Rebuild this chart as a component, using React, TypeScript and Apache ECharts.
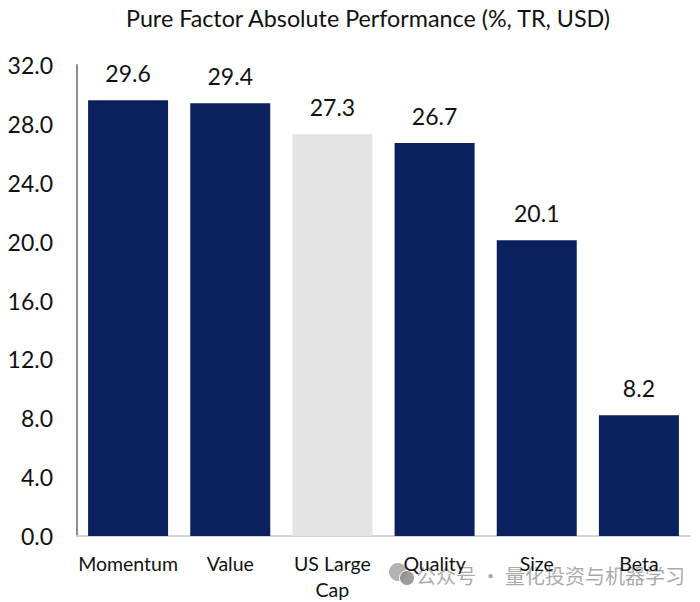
import React, { useEffect, useRef } from "react";
import * as echarts from "echarts";

const categories = ["Momentum", "Value", "US Large\nCap", "Quality", "Size", "Beta"];
const values = [29.6, 29.4, 27.3, 26.7, 20.1, 8.2];
const barColors = ["#0a205f", "#0a205f", "#e4e4e4", "#0a205f", "#0a205f", "#0a205f"];
const title = "Pure Factor Absolute Performance (%, TR, USD)";
const watermark = "公众号 · 量化投资与机器学习";
const font = "Lato";

export default function App() {
  const ref = useRef<HTMLDivElement>(null);
  useEffect(() => {
    const chart = echarts.init(ref.current!, null, { renderer: "svg" });
    chart.setOption({
      animation: false,
      backgroundColor: "#fff",
      title: {
        text: title, left: 363, top: 1, textAlign: "center",
        textStyle: { fontFamily: font, fontSize: 23.3, fontWeight: "normal", color: "#111" },
      },
      grid: { left: 77, right: 10, top: 65, bottom: 65 },
      xAxis: {
        type: "category", data: categories,
        axisLine: { lineStyle: { color: "#d4d4d4", width: 2 } },
        axisTick: { show: false },
        axisLabel: { fontFamily: font, fontSize: 19.5, color: "#111", margin: 14, lineHeight: 26, interval: 0 },
      },
      yAxis: {
        type: "value", min: 0, max: 32, interval: 4,
        axisLine: { show: true, lineStyle: { color: "#8c8c8c", width: 2 } },
        axisTick: { show: false },
        splitLine: { show: false },
        axisLabel: { fontFamily: font, fontSize: 23, color: "#111", margin: 24, formatter: (v: number) => v.toFixed(1) },
      },
      series: [{
        type: "bar", data: values.map((v, i) => ({ value: v, itemStyle: { color: barColors[i] } })),
        barWidth: 80,
        label: { show: true, position: "top", distance: 16, fontFamily: font, fontSize: 23, color: "#111", formatter: (p: any) => p.value.toFixed(1) },
      }],
      graphic: [
        { type: "circle", shape: { cx: 398, cy: 572, r: 9 }, style: { fill: "rgba(165,165,165,0.85)" } },
        { type: "circle", shape: { cx: 407, cy: 578, r: 7.5 }, style: { fill: "rgba(140,140,140,0.85)", stroke: "#fff", lineWidth: 1 } },
        { type: "text", left: 416, top: 565, style: { text: watermark, fontFamily: "Noto Sans CJK SC", fontSize: 20, fill: "rgba(120,120,120,0.65)" } },
      ],
    });
    return () => chart.dispose();
  }, []);
  return <div ref={ref} style={{ width: 700, height: 602, position: "absolute", left: 0, top: 0 }} />;
}
